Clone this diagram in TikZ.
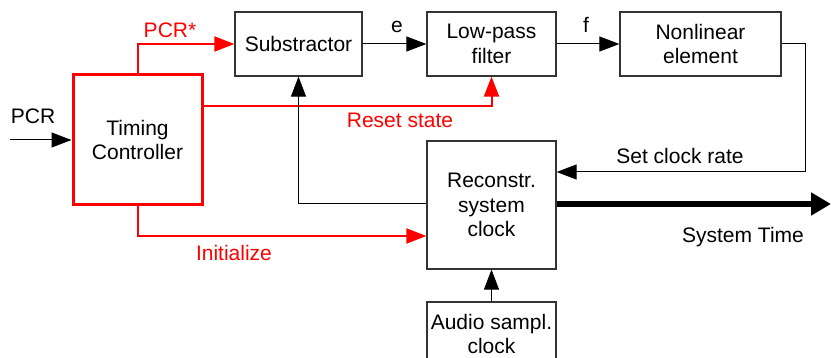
\documentclass[tikz,border=0pt]{standalone}
\usepackage{fontspec}
\setmainfont{Liberation Sans}
\usetikzlibrary{arrows.meta}

\tikzset{
  blk/.style={draw=black!80, line width=1.2pt, align=center, inner sep=0pt,
              font=\fontsize{21}{24.5}\selectfont},
  lbl/.style={anchor=base, inner sep=0pt, font=\fontsize{21}{24}\selectfont},
  arr/.style={line width=1pt, -{Triangle[length=20pt,width=15pt]}},
  redarr/.style={red, line width=2pt, -{Triangle[length=20pt,width=15pt]}},
  bigarr/.style={line width=5.5pt, -{Triangle[length=20pt,width=22pt]}}
}

\begin{document}
\begin{tikzpicture}[x=1pt,y=-1pt]

  \useasboundingbox (0,0) rectangle (831,358);

  \node[blk, draw=red, line width=3pt, minimum width=129pt, minimum height=130pt]
    (ctrl) at (137.5,140) {Timing\\Controller};
  \node[blk, minimum width=127pt, minimum height=64pt] (sub) at (298.5,44) {Substractor};
  \node[blk, minimum width=129pt, minimum height=64pt] (lpf) at (491.5,44) {Low-pass\\filter};
  \node[blk, minimum width=161pt, minimum height=64pt] (nle) at (700.5,44) {Nonlinear\\element};
  \node[blk, minimum width=129pt, minimum height=128pt] (rsc) at (491.5,205) {Reconstr.\\system\\clock};
  \node[blk, minimum width=129pt, minimum height=64pt] (aud) at (491.5,334) {Audio sampl.\\clock};

  \coordinate (pcrin) at ( 10, 140);
  \coordinate (scr)   at (805, 172);
  \coordinate (rst)   at (491, 106);
  \coordinate (fb)    at (298, 204);
  \coordinate (ini)   at (137, 236);
  \coordinate (sysout) at (831, 204);

  \draw[arr] (pcrin) -- (ctrl.west);
  \draw[redarr] (ctrl.north) |- (sub.west);
  \draw[arr] (sub) -- (lpf);
  \draw[arr] (lpf) -- (nle);
  \draw[arr] (nle.east) -| (scr) -- (scr -| rsc.east);
  \draw[redarr] (rst -| ctrl.east) -| (lpf.south);
  \draw[arr] (fb -| rsc.west) -| (sub.south);
  \draw[redarr] (ctrl.south) |- (ini -| rsc.west);
  \draw[bigarr] (fb -| rsc.east) -- (sysout);
  \draw[arr] (aud) -- (rsc);

  \node[lbl] (lpcr)  at ( 33, 124) {PCR};
  \node[lbl, red] (lpcrs) at (170, 38) {PCR*};
  \node[lbl] (le)    at (397, 33) {e};
  \node[lbl] (lf)    at (586, 33) {f};
  \node[lbl, red] (lrst) at (400, 128) {Reset state};
  \node[lbl] (lscr)  at (680, 164) {Set clock rate};
  \node[lbl, red] (lini) at (234, 261) {Initialize};
  \node[lbl] (lsys)  at (743, 243) {System Time};

\end{tikzpicture}
\end{document}
